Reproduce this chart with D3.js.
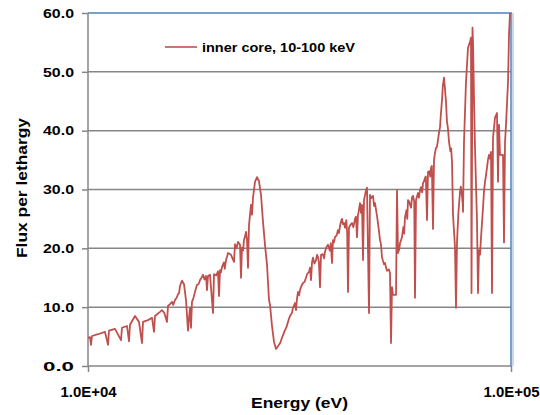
<!DOCTYPE html>
<html lang="en">
<head>
  <meta charset="UTF-8">
  <title>Flux per lethargy, inner core</title>
  <script src="https://d3js.org/d3.v7.min.js"></script>
  <style>
    body { margin: 0; background: #fff; }
    text { font-family: "Liberation Sans", Arial, sans-serif; font-weight: bold; fill: #000; }
    .grid { stroke: #868686; stroke-width: 1.5px; }
    .axis-line { stroke: #868686; stroke-width: 1.5px; fill: none; }
    .frame { stroke: #4f81bd; stroke-width: 1.5px; fill: none; }
    .flux { stroke: #c0504d; stroke-width: 1.8px; fill: none; stroke-linejoin: round; }
  </style>
</head>
<body>
  <script>
    // Values: energy in eV, flux per lethargy
    const energy = [10000, 10109, 10165, 10220, 10559, 10970, 11150, 11211, 11583, 11968, 12033, 12365, 12501, 12569, 12916, 13200, 13417, 13490, 13863, 14168,
      14323, 14401, 14798, 14960, 15373, 15457, 15797, 16057, 16322, 16500, 16681, 16864, 17048, 17235, 17329, 17424, 17519, 17614, 17904, 18100,
      18398, 18701, 19009, 19113, 19217, 19428, 19748, 19855, 20292, 20403, 20515, 20739, 21196, 21428, 21780, 22139, 22260, 22626, 22874, 22999,
      23124, 23378, 23633, 23892, 24023, 24286, 24418, 24551, 24820, 25092, 25367, 25644, 25925, 26209, 26496, 26786, 26932, 27227, 27525, 27826,
      28284, 28750, 29223, 29704, 30193, 30524, 30858, 31027, 31366, 31710, 32232, 32762, 33121, 33484, 33666, 34035, 34595, 34974, 35357, 35550,
      36332, 36930, 37743, 37949, 38365, 38997, 39423, 39855, 40291, 40511, 41178, 41403, 42085, 42778, 43246, 43482, 43958, 44439, 44682, 44925,
      45417, 45665, 46165, 46417, 46925, 47698, 48483, 49014, 49550, 50093, 50641, 51195, 51756, 52038, 52322, 52608, 53474, 53766, 54060, 54651,
      55250, 56159, 57084, 57709, 58340, 59301, 59625, 60277, 60937, 61941, 62619, 63304, 63650, 64698, 65406, 65763, 66483, 67210, 67946, 68690,
      69442, 70202, 70585, 71358, 72533, 72929, 73727, 74129, 74534, 75761, 76590, 77009, 77429, 78276, 79133, 80000, 80436, 80655, 81096, 81317,
      81761, 82207, 83107, 83560, 84016, 84475, 84936, 85866, 86806, 87756, 88717, 89688, 90177, 90670, 91662, 92666, 93171, 93680, 94191, 95222,
      95742, 96265, 96790, 97318, 98384, 98921, 99461];
    const flux = [4.8, 4.9, 3.6, 5.1, 5.4, 5.8, 3.6, 6.0, 6.3, 4.4, 6.5, 6.8, 4.2, 7.0, 8.5, 7.5, 3.9, 7.5, 7.8, 8.2,
      5.8, 8.5, 9.2, 9.5, 7.5, 10.2, 10.9, 11.2, 12.2, 13.6, 14.5, 13.9, 11.2, 6.0, 8.2, 9.9, 6.5, 10.9, 12.6, 13.8,
      14.6, 15.5, 15.3, 12.9, 15.3, 15.5, 9.0, 15.6, 16.1, 11.9, 16.3, 16.8, 18.0, 19.2, 18.9, 17.7, 20.7, 21.1, 20.6, 15.0,
      20.1, 21.4, 22.8, 16.7, 24.0, 27.4, 25.7, 28.6, 31.3, 32.1, 31.4, 29.1, 24.5, 20.6, 17.2, 11.2, 10.4, 6.8, 4.1, 2.9,
      3.6, 4.8, 6.1, 7.5, 8.8, 9.9, 10.7, 9.5, 12.6, 12.9, 14.1, 15.0, 15.8, 16.7, 14.6, 18.4, 18.0, 18.5, 13.4, 18.9,
      19.4, 20.6, 17.5, 21.4, 21.9, 23.1, 23.8, 25.0, 24.3, 23.5, 12.6, 23.5, 24.3, 25.0, 21.9, 25.7, 27.7, 27.4, 18.0, 28.2,
      29.9, 30.3, 9.0, 29.1, 28.7, 27.7, 24.3, 21.4, 18.5, 17.3, 16.8, 16.3, 15.8, 3.9, 13.4, 12.1, 12.1, 29.9, 19.2, 20.9,
      21.9, 25.3, 28.2, 27.4, 28.7, 11.6, 28.2, 29.4, 29.9, 31.1, 32.0, 24.8, 33.0, 33.7, 23.3, 35.0, 37.1, 38.4, 40.6, 45.2,
      49.0, 44.9, 41.5, 38.1, 34.7, 25.7, 20.1, 9.9, 21.1, 29.6, 28.9, 26.2, 38.1, 48.3, 54.1, 55.1, 55.8, 12.4, 57.5, 55.1,
      45.6, 37.1, 24.5, 12.4, 19.7, 18.9, 21.8, 26.9, 31.3, 33.7, 35.9, 36.4, 12.4, 38.8, 42.2, 43.0, 31.3, 41.0, 35.9, 35.9,
      35.9, 21.0, 38.0, 41.0, 48.3, 56.3, 60.0];
    const energyDetail = [15150, 15620, 15900, 16200, 16420, 17760, 18250, 18550, 18850, 20100, 20620, 20950, 21050, 21320, 22450, 23250, 23500, 23760,
      28500, 29000, 29450, 29950, 30350, 31200, 31550, 31950, 32500, 32950, 33300, 33850, 34300, 34800, 35150, 35900, 36150, 36600, 37300, 37500,
      38150, 38700, 39200, 39650, 40050, 40800, 41000, 41700, 42400, 43000, 43700, 44200, 46700, 47200, 47450, 48000, 48250, 48750, 49250, 49800,
      50350, 50900, 51450, 54400, 54900, 55650, 55900, 56600, 56850, 57400, 58050, 58700, 59050, 60600, 61300, 61650, 62300, 62900, 64200, 64400,
      65000, 66100, 66800, 67550, 68300, 69000, 69800, 70400, 70950, 71900, 72200, 75100, 76100, 76900, 85300, 86300, 87300, 88200, 89200];
    const fluxDetail = [9.0, 10.5, 10.4, 11.6, 12.4, 11.6, 13.9, 15.0, 14.7, 15.4, 15.9, 17.6, 16.5, 18.6, 20.0, 19.6, 22.0, 21.5,
      4.0, 5.5, 6.6, 8.3, 9.0, 11.5, 12.0, 13.6, 14.3, 15.6, 16.0, 17.6, 17.4, 18.9, 17.6, 19.0, 18.3, 20.2, 19.6, 20.9,
      21.0, 22.2, 22.6, 24.6, 24.1, 24.8, 22.5, 24.0, 23.6, 25.4, 26.5, 26.0, 28.5, 28.9, 27.2, 26.4, 25.4, 22.9, 20.8, 17.9,
      17.5, 16.2, 16.4, 19.8, 21.3, 23.6, 22.5, 26.5, 25.0, 28.0, 26.9, 28.9, 27.9, 28.6, 30.4, 29.5, 31.4, 32.2, 33.1, 32.2,
      34.0, 36.2, 37.2, 39.6, 43.0, 47.6, 47.2, 43.0, 40.4, 36.5, 37.0, 26.0, 30.5, 27.5, 23.8, 29.5, 32.5, 35.0, 35.2];
    const yTicks = [0, 10, 20, 30, 40, 50, 60];
    const xTicks = [1e4, 1e5];
    const seriesName = "inner core, 10-100 keV";

    const width = 540, height = 415;
    const margin = {left: 88, right: 29, top: 13, bottom: 49};

    const svg = d3.select("body").append("svg")
      .attr("width", width)
      .attr("height", height);

    const x = d3.scaleLog()
      .domain([1e4, 1e5])
      .range([margin.left, width - margin.right]);
    const y = d3.scaleLinear()
      .domain([0, 60])
      .range([height - margin.bottom, margin.top]);

    // horizontal gridlines
    svg.selectAll(".grid")
      .data(yTicks.filter(d => d > 0 && d < 60))
      .enter().append("line")
      .attr("class", "grid")
      .attr("x1", x(1e4)).attr("x2", x(1e5))
      .attr("y1", d => y(d)).attr("y2", d => y(d));

    // left axis with tick marks
    const yAxis = svg.append("g")
      .attr("transform", `translate(${x(1e4)},0)`)
      .call(d3.axisLeft(y).tickValues(yTicks).tickSize(6).tickPadding(8).tickFormat(d3.format(".1f")));
    yAxis.select(".domain").remove();
    yAxis.selectAll("line").attr("stroke", "#868686").attr("stroke-width", 1.5);
    yAxis.selectAll("text")
      .style("font-size", "13px")
      .attr("textLength", 31)
      .attr("lengthAdjust", "spacingAndGlyphs");

    // bottom axis
    const xAxis = svg.append("g")
      .attr("transform", `translate(0,${y(0)})`)
      .call(d3.axisBottom(x).tickValues(xTicks).tickSize(6).tickPadding(15)
        .tickFormat(d => d3.format(".1e")(d).replace("e+", "E+0")));
    xAxis.select(".domain").remove();
    xAxis.selectAll("line").attr("stroke", "#868686").attr("stroke-width", 1.5);
    xAxis.selectAll("text")
      .style("font-size", "14px")
      .attr("textLength", 56)
      .attr("lengthAdjust", "spacingAndGlyphs");

    svg.append("line").attr("class", "axis-line")
      .attr("x1", x(1e4)).attr("x2", x(1e4))
      .attr("y1", y(60)).attr("y2", y(0) + 1);
    svg.append("line").attr("class", "axis-line")
      .attr("x1", x(1e4)).attr("x2", x(1e5))
      .attr("y1", y(0)).attr("y2", y(0));

    // blue frame on top and right
    svg.append("line").attr("class", "frame")
      .attr("x1", x(1e4)).attr("x2", x(1e5) + 1)
      .attr("y1", y(60)).attr("y2", y(60));
    svg.append("line").attr("class", "frame")
      .attr("x1", x(1e5)).attr("x2", x(1e5))
      .attr("y1", y(60)).attr("y2", y(0));
    svg.append("line")
      .attr("x1", x(1e5) + 2).attr("x2", x(1e5) + 2)
      .attr("y1", y(60)).attr("y2", y(0))
      .attr("stroke", "#b9cde5").attr("stroke-width", 1.5);

    // flux curve
    svg.append("clipPath").attr("id", "plot-clip")
      .append("rect")
      .attr("x", x(1e4)).attr("y", y(60))
      .attr("width", x(1e5) - x(1e4)).attr("height", y(0) - y(60));

    const points = energy.map((e, i) => [e, flux[i]])
      .concat(energyDetail.map((e, i) => [e, fluxDetail[i]]))
      .sort((a, b) => a[0] - b[0]);

    const line = d3.line()
      .x(d => x(d[0]))
      .y(d => y(d[1]));

    svg.append("path")
      .datum(points)
      .attr("class", "flux")
      .attr("clip-path", "url(#plot-clip)")
      .attr("d", line);

    // legend
    svg.append("line")
      .attr("x1", 165).attr("x2", 197)
      .attr("y1", 47).attr("y2", 47)
      .attr("stroke", "#c0504d").attr("stroke-width", 1.6);
    svg.append("text")
      .attr("x", 202).attr("y", 52)
      .style("font-size", "13px")
      .attr("textLength", 153)
      .attr("lengthAdjust", "spacingAndGlyphs")
      .text(seriesName);

    // axis titles
    svg.append("text")
      .attr("x", (x(1e4) + x(1e5)) / 2).attr("y", 408)
      .attr("text-anchor", "middle")
      .style("font-size", "15px")
      .attr("textLength", 97)
      .attr("lengthAdjust", "spacingAndGlyphs")
      .text("Energy (eV)");
    svg.append("text")
      .attr("transform", "translate(27,188) rotate(-90)")
      .attr("text-anchor", "middle")
      .style("font-size", "15px")
      .attr("textLength", 140)
      .attr("lengthAdjust", "spacingAndGlyphs")
      .text("Flux per lethargy");
  </script>
</body>
</html>
